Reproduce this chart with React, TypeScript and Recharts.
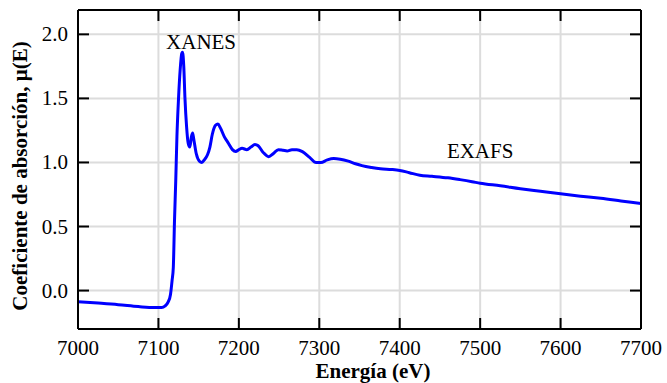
import React from 'react';
import { LineChart, Line, XAxis, YAxis, CartesianGrid, ReferenceDot } from 'recharts';

const energy = [
  7000, 7025, 7050, 7075, 7095, 7104, 7108, 7112, 7115, 7117, 7118.5, 7120, 7121.5, 7123, 7125, 7127, 7129, 7130,
  7131.5, 7133, 7135, 7137, 7139, 7141, 7142.5, 7144, 7147, 7151, 7154, 7157, 7161, 7164, 7167, 7171, 7174, 7177,
  7182, 7187, 7192, 7196, 7200, 7204, 7210, 7215, 7220, 7224, 7230, 7237, 7243, 7249, 7255, 7260, 7266, 7272,
  7279, 7288, 7296, 7302, 7310, 7318, 7326, 7336, 7345, 7353, 7365, 7376, 7390, 7400, 7412, 7425, 7440, 7460,
  7475, 7490, 7500, 7525, 7550, 7575, 7600, 7625, 7650, 7675, 7700,
];
const mu = [
  -0.087, -0.098, -0.11, -0.125, -0.133, -0.132, -0.122, -0.09, -0.03, 0.08, 0.18, 0.55, 0.85, 1.2, 1.5, 1.72, 1.85, 1.86,
  1.75, 1.5, 1.28, 1.15, 1.12, 1.2, 1.23, 1.18, 1.07, 1.01, 1.0, 1.02, 1.06, 1.12, 1.22, 1.29, 1.3, 1.27,
  1.2, 1.15, 1.1, 1.085, 1.1, 1.11, 1.1, 1.12, 1.14, 1.13, 1.08, 1.045, 1.07, 1.1, 1.095, 1.09, 1.1, 1.1,
  1.085, 1.04, 1.0, 1.0, 1.02, 1.03, 1.025, 1.01, 0.99, 0.975, 0.96, 0.95, 0.945, 0.938, 0.92, 0.9, 0.892, 0.88,
  0.866, 0.85, 0.838, 0.818, 0.795, 0.775, 0.755, 0.737, 0.72, 0.7, 0.68,
];
const xTicks = [7000, 7100, 7200, 7300, 7400, 7500, 7600, 7700];
const yTicks = [0, 0.5, 1.0, 1.5, 2.0];
const xDomain = [7000, 7700];
const yDomain = [-0.3, 2.19];
const xTitle = 'Energía (eV)';
const yTitle = 'Coeficiente de absorción, μ(E)';
const annotations = [
  { x: 7153, y: 1.94, text: 'XANES' },
  { x: 7500, y: 1.095, text: 'EXAFS' },
];

const data = energy.map((e, i) => ({ e, mu: mu[i] }));

const FONT = '"Liberation Serif", "Times New Roman", serif';
const TL = 11;

const BottomTick = (p: any) => (
  <g>
    <line x1={p.x} x2={p.x} y1={p.y} y2={p.y - TL} stroke="#000" strokeWidth={2} />
    <text x={p.x} y={p.y + 26} textAnchor="middle" fontSize={21} fontFamily={FONT} fill="#000">
      {p.payload.value}
    </text>
  </g>
);
const TopTick = (p: any) => (
  <line x1={p.x} x2={p.x} y1={p.y} y2={p.y + TL} stroke="#000" strokeWidth={2} />
);
const LeftTick = (p: any) => (
  <g>
    <line x1={p.x} x2={p.x + TL} y1={p.y} y2={p.y} stroke="#000" strokeWidth={2} />
    <text x={p.x - 10} y={p.y + 7} textAnchor="end" fontSize={21} fontFamily={FONT} fill="#000">
      {Number(p.payload.value).toFixed(1)}
    </text>
  </g>
);
const RightTick = (p: any) => (
  <line x1={p.x} x2={p.x - TL} y1={p.y} y2={p.y} stroke="#000" strokeWidth={2} />
);

const XTitle = () => (
  <text x={373} y={378} textAnchor="middle" fontSize={21} fontWeight="bold" fontFamily={FONT} fill="#000">
    {xTitle}
  </text>
);
const YTitle = () => (
  <text transform="translate(27,176) rotate(-90)" textAnchor="middle" fontSize={21} fontWeight="bold" fontFamily={FONT} fill="#000">
    {yTitle}
  </text>
);

export default function App() {
  return (
    <div style={{ position: 'absolute', left: 0, top: 0, background: '#fff' }}>
      <LineChart width={667} height={383} data={data} margin={{ top: 0, right: 0, bottom: 0, left: 0 }}>
        <CartesianGrid xAxisId="b" yAxisId="l" stroke="#dcdcdc" strokeWidth={2} />
        <XAxis
          xAxisId="b"
          dataKey="e"
          type="number"
          domain={xDomain}
          ticks={xTicks}
          allowDataOverflow
          height={54}
          tickSize={0}
          tickMargin={0}
          tickLine={false}
          tick={<BottomTick />}
          axisLine={{ stroke: '#000', strokeWidth: 2 }}
          interval={0}
          label={<XTitle />}
        />
        <XAxis
          xAxisId="t"
          orientation="top"
          dataKey="e"
          type="number"
          domain={xDomain}
          ticks={xTicks}
          allowDataOverflow
          height={10}
          tickSize={0}
          tickMargin={0}
          tickLine={false}
          tick={<TopTick />}
          axisLine={{ stroke: '#000', strokeWidth: 2 }}
          interval={0}
        />
        <YAxis
          yAxisId="l"
          type="number"
          domain={yDomain}
          ticks={yTicks}
          allowDataOverflow
          width={78}
          tickSize={0}
          tickMargin={0}
          tickLine={false}
          tick={<LeftTick />}
          axisLine={{ stroke: '#000', strokeWidth: 2 }}
          interval={0}
          label={<YTitle />}
        />
        <YAxis
          yAxisId="r"
          orientation="right"
          type="number"
          domain={yDomain}
          ticks={yTicks}
          allowDataOverflow
          width={26}
          tickSize={0}
          tickMargin={0}
          tickLine={false}
          tick={<RightTick />}
          axisLine={{ stroke: '#000', strokeWidth: 2 }}
          interval={0}
        />
        <Line
          xAxisId="b"
          yAxisId="l"
          dataKey="mu"
          type="monotone"
          stroke="#0000ff"
          strokeWidth={3}
          dot={false}
          isAnimationActive={false}
        />
        {annotations.map((a) => (
          <ReferenceDot
            key={a.text}
            xAxisId="b"
            yAxisId="l"
            x={a.x}
            y={a.y}
            r={0}
            fill="none"
            stroke="none"
            label={{ value: a.text, position: 'center', fontSize: 21, fontFamily: FONT, fill: '#000' }}
          />
        ))}
      </LineChart>
    </div>
  );
}
